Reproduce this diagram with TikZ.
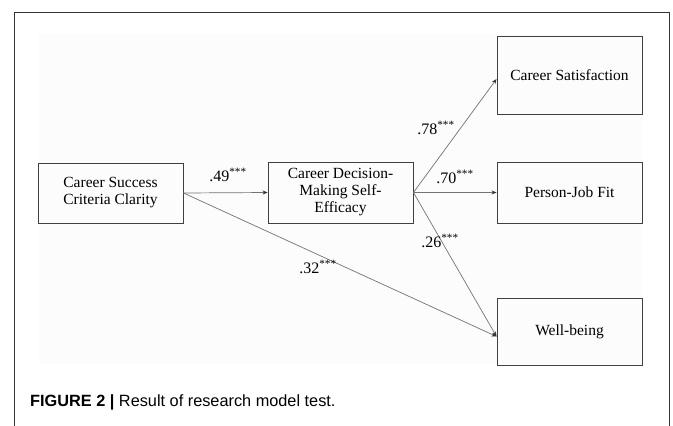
\documentclass[tikz,border=0pt]{standalone}
\usepackage{fontspec}
\setmainfont{Liberation Serif}
\newfontfamily\capfont{Liberation Sans}
\usetikzlibrary{arrows.meta}

\begin{document}
\begin{tikzpicture}[x=1pt,y=-1pt]
		\tikzstyle{VarBox}   = [draw=black!75, line width=0.9pt, minimum width=145pt, align=center, font=\fontsize{15.5}{17}\selectfont, inner sep=2pt]
		\tikzstyle{PathLine} = [draw=black!55, line width=0.7pt, -{Stealth[length=5pt,width=4pt,black!80]}]
		\tikzstyle{Coef}     = [font=\fontsize{16}{17}\selectfont, inner sep=1pt]
		
		\useasboundingbox (0,0) rectangle (673,426);
		\fill[black!1] (39,34) rectangle (642,364);
		\draw[black!80, line width=0.9pt] (14,440) |- (669,12) -- (669,440);
		
		\node[VarBox, minimum height=60pt] (Clarity)  at (110.5,193) {Career Success\\Criteria Clarity};
		\node[VarBox, minimum height=61pt] (Efficacy) at (340.5,192.5) {Career Decision-\\Making Self-\\Efficacy};
		\node[VarBox, minimum height=78pt] (Satisf)   at (569.5,75) {Career Satisfaction};
		\node[VarBox, minimum height=61pt] (Fit)      at (569.5,192.5) {Person-Job Fit};
		\node[VarBox, minimum height=67pt] (Wellb)    at (569.5,331.5) {Well-being};
		
		\draw[PathLine] (Clarity.east) -- (Efficacy.west);
		\draw[PathLine] (Clarity.east) -- ([yshift=-5pt]Wellb.west);
		\draw[PathLine] (Efficacy.east) -- ([yshift=-4pt]Satisf.west);
		\draw[PathLine] (Efficacy.east) -- (Fit.west);
		\draw[PathLine] (Efficacy.east) -- ([yshift=-5pt]Wellb.west);
		
		\node[Coef] (c49) at (228,175) {.49\textsuperscript{***}};
		\node[Coef] (c32) at (318,267) {.32\textsuperscript{***}};
		\node[Coef] (c78) at (436,128) {.78\textsuperscript{***}};
		\node[Coef] (c70) at (455,177) {.70\textsuperscript{***}};
		\node[Coef] (c26) at (440,241) {.26\textsuperscript{***}};
		
		\node[anchor=west, inner sep=0pt, font=\capfont\fontsize{16.3}{18}\selectfont] (caption) at (30,402)
			{\textbf{FIGURE 2 |} Result of research model test.};
	\end{tikzpicture}
\end{document}
